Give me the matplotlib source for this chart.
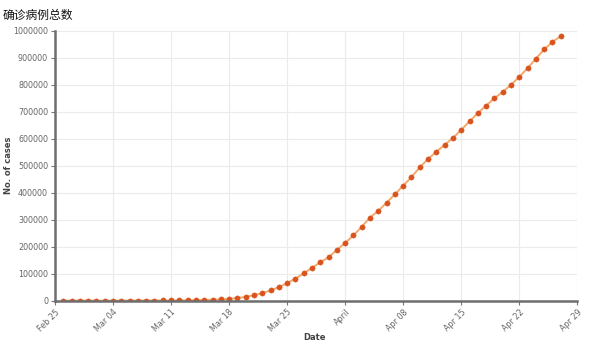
import matplotlib
matplotlib.use("Agg")
import matplotlib.pyplot as plt

plt.rcParams['font.family'] = ['DejaVu Sans']

title = "确诊病例总数"
x_label = "Date"
y_label = "No. of cases"

# day offset from the axis start (first tick)
days = list(range(1, 62))
cases = [60, 60, 65, 70, 75, 100, 125, 160, 220, 320, 440, 570, 750, 1000, 1300,
         1700, 2200, 2900, 3500,
         5000, 7000, 10000, 14000, 20000, 28000, 38000, 50000, 65000, 82000,
         101000, 122000, 142000,
         161000, 188000, 214000, 242000, 274000, 308000, 333000,
         363000, 394000, 426000, 458000, 494000, 525000, 552000, 577000, 603000,
         633000, 664000, 695000, 722000, 750000, 773000, 800000, 829000, 861000,
         896000, 931000, 958000, 980000]

x_tick_pos = [0, 7, 14, 21, 28, 35, 42, 49, 56, 63]
x_tick_labels = ["Feb 25", "Mar 04", "Mar 11", "Mar 18", "Mar 25", "April",
                 "Apr 08", "Apr 15", "Apr 22", "Apr 29"]
y_ticks = [0, 100000, 200000, 300000, 400000, 500000, 600000, 700000, 800000,
           900000, 1000000]

fig = plt.figure(figsize=(5.92, 3.45), dpi=100)
ax = fig.add_axes([55/592, 1-300.7/345, (577.3-55)/592, (300.7-30.7)/345])

ax.plot(days, cases, color='#f5a86a', lw=1.4, zorder=2,
        marker='o', markersize=3.8, markerfacecolor='#d9531e',
        markeredgecolor='#d9531e', markeredgewidth=0.3)

ax.set_xlim(0, 63)
ax.set_ylim(0, 1000000)
ax.set_xticks(x_tick_pos)
ax.set_xticklabels(x_tick_labels, rotation=45, ha='right', rotation_mode='anchor')
ax.set_yticks(y_ticks)
ax.set_yticklabels([str(v) for v in y_ticks])

ax.grid(True, color='#ebebeb', lw=0.8, zorder=0)
ax.set_axisbelow(True)

for s in ['top', 'right']:
    ax.spines[s].set_visible(False)
for s in ['left', 'bottom']:
    ax.spines[s].set_color('#6e6e6e')
    ax.spines[s].set_linewidth(1.8)

ax.tick_params(axis='both', colors='#777777', labelsize=5.8, length=3, width=0.8,
               labelcolor='#666666', pad=2)

ax.set_xlabel(x_label, fontsize=6, fontweight='bold', color='#444444', labelpad=4)
ax.xaxis.set_label_coords((315-55)/(577.3-55), -0.12)
ax.set_ylabel(y_label, fontsize=6, fontweight='bold', color='#444444', va='center')
ax.yaxis.set_label_coords(-(55-9)/(577.3-55), 0.5)

fig.text(3/592, 1-15/345, title, fontsize=8.5, va='center', ha='left',
         family=['Noto Sans CJK SC', 'DejaVu Sans'], color='#111111')

fig.savefig("out.png", dpi=100)
